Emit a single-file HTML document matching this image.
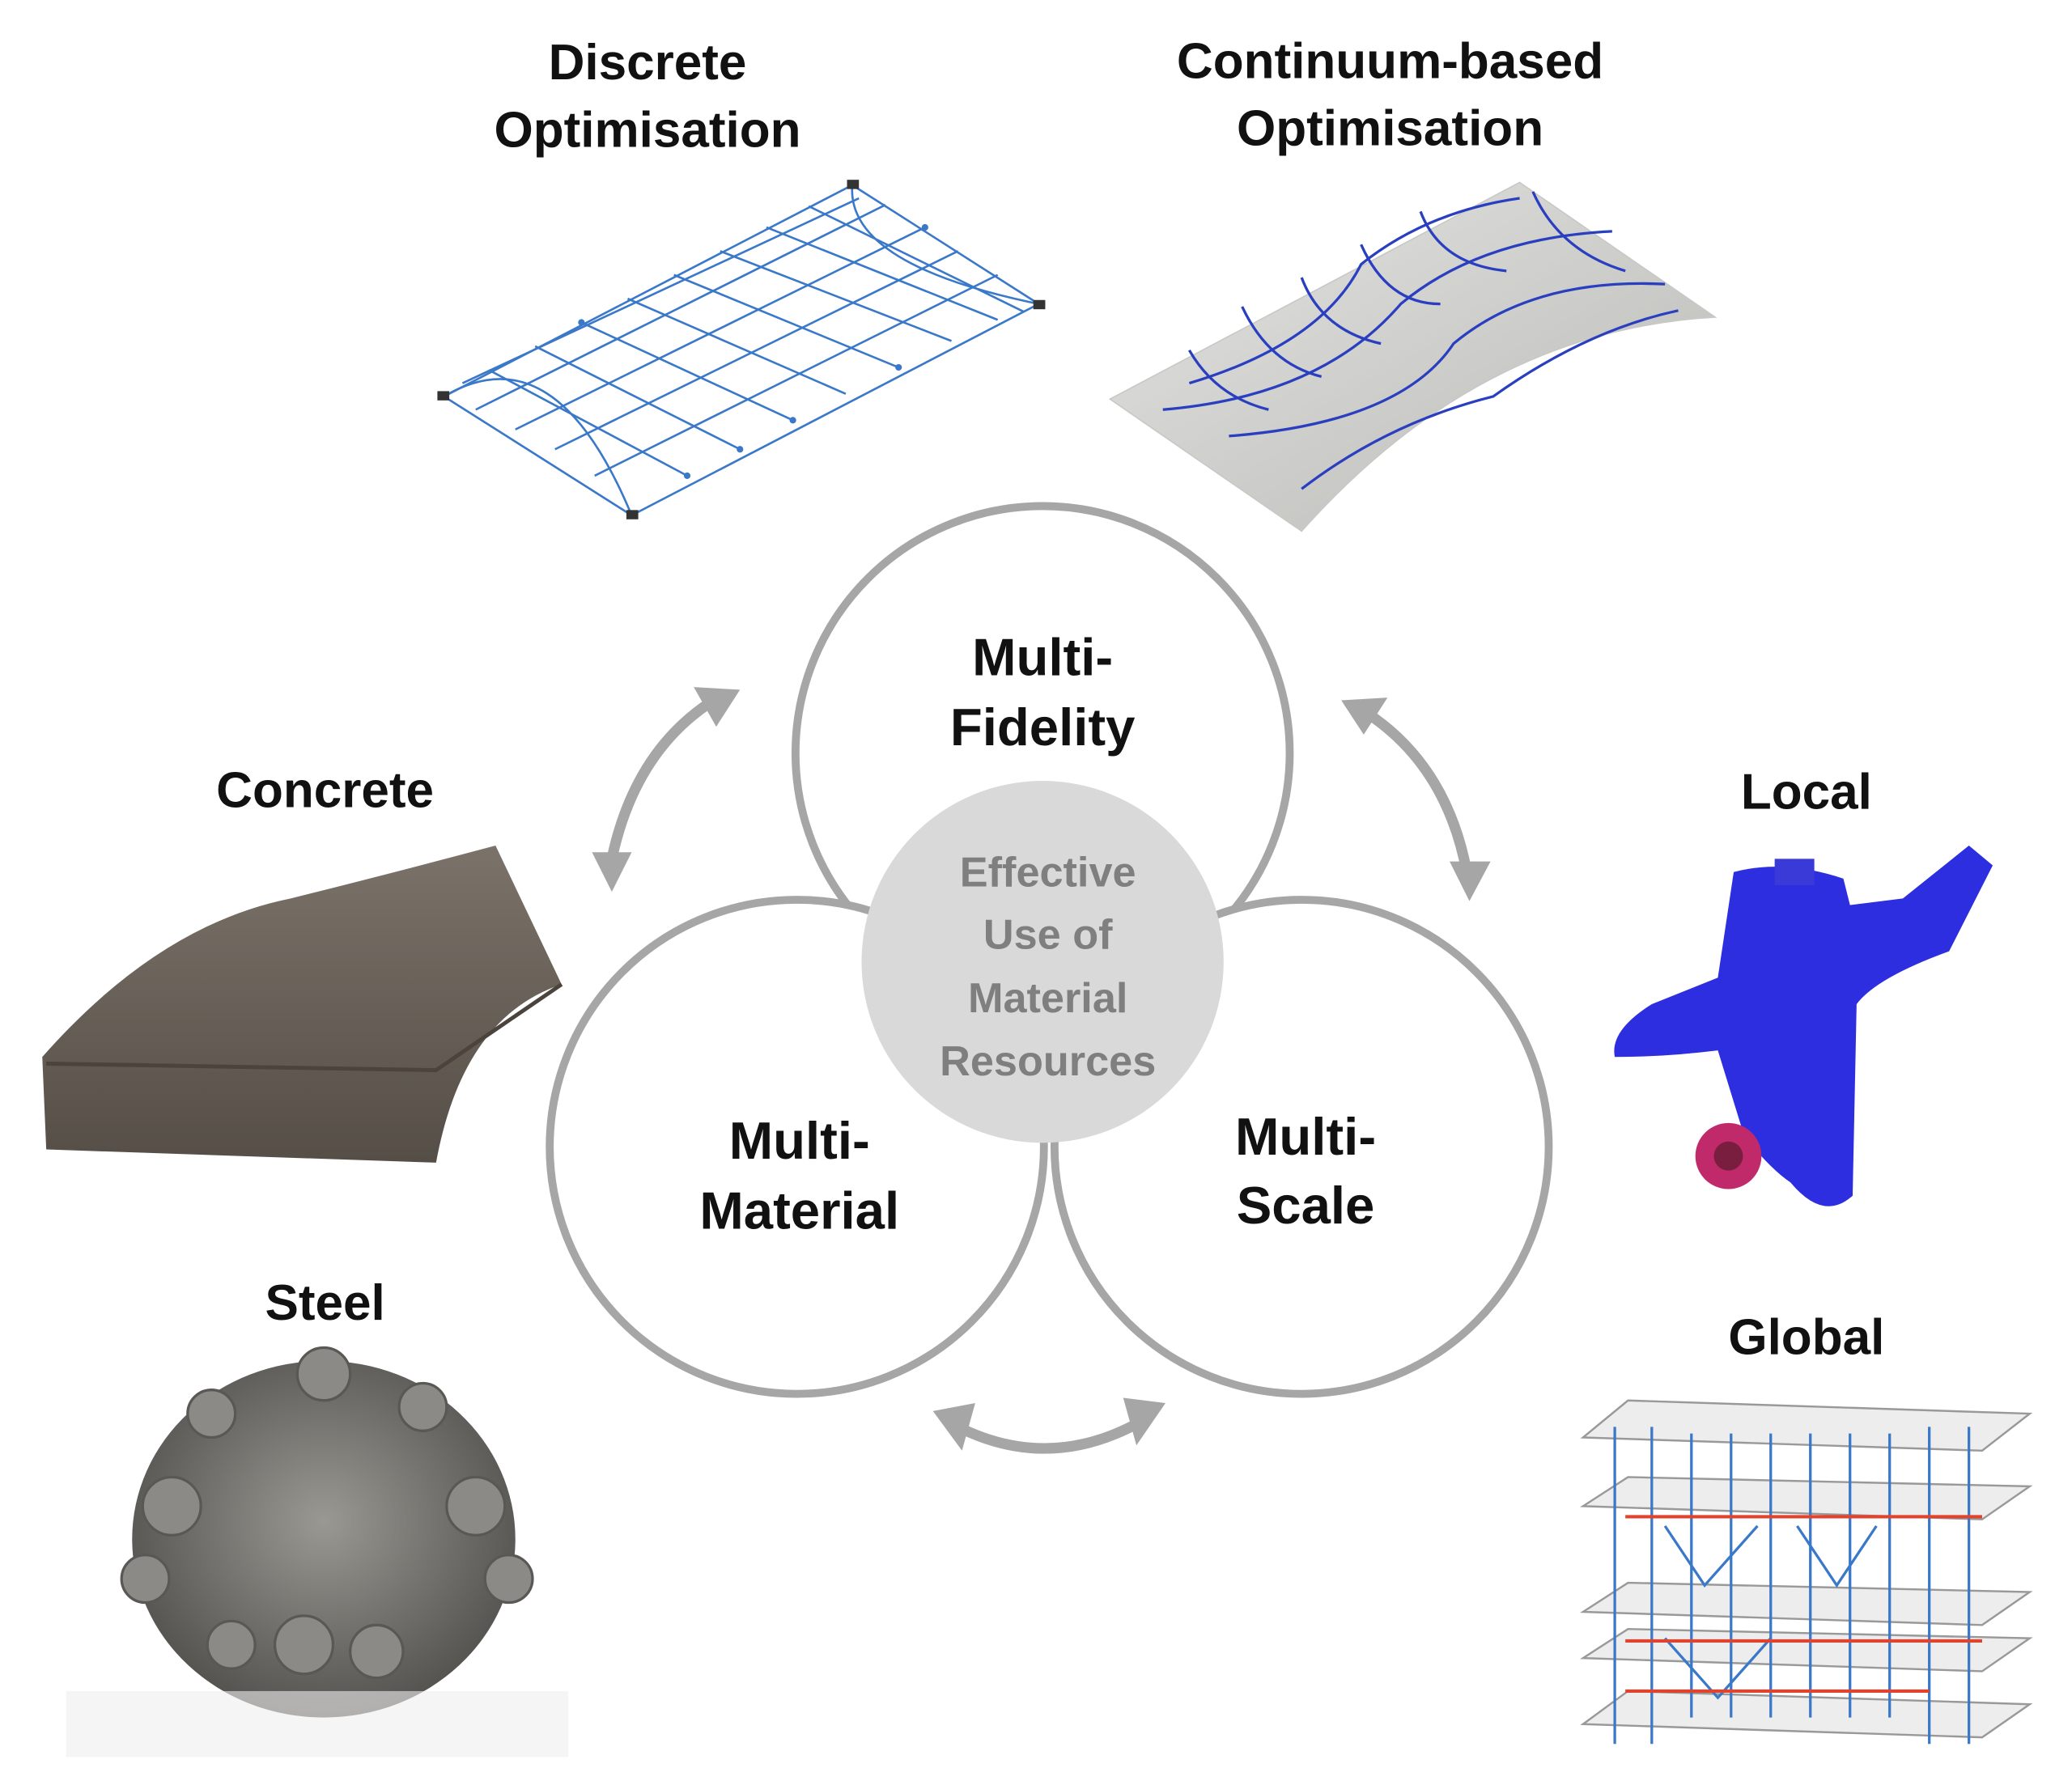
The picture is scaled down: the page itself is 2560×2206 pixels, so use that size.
<!DOCTYPE html>
<html><head><meta charset="utf-8"><style>html,body{margin:0;padding:0;background:#fff}svg{display:block}</style></head>
<body>
<svg width="2560" height="2206" viewBox="0 0 1568 1351" xmlns="http://www.w3.org/2000/svg" font-family="Liberation Sans, sans-serif" font-weight="bold">
<defs>
<linearGradient id="shell" x1="0" y1="0" x2="1" y2="1"><stop offset="0" stop-color="#e4e4e2"/><stop offset="1" stop-color="#b9b9b6"/></linearGradient>
<radialGradient id="steel" cx="0.5" cy="0.45" r="0.55"><stop offset="0" stop-color="#9a9893"/><stop offset="1" stop-color="#55534f"/></radialGradient>
<linearGradient id="conc" x1="0" y1="0" x2="0" y2="1"><stop offset="0" stop-color="#7b736a"/><stop offset="1" stop-color="#554e46"/></linearGradient>
</defs>

<g font-size="38" text-anchor="middle" fill="#111">
<text x="490" y="60">Discrete</text><text x="490" y="111">Optimisation</text>
<text x="1052" y="59">Continuum-based</text><text x="1052" y="110">Optimisation</text>
<text x="246" y="611">Concrete</text>
<text x="246" y="999">Steel</text>
<text x="1367" y="612">Local</text>
<text x="1367" y="1025">Global</text>
</g>

<g stroke="#3a78c9" stroke-width="1.6" fill="none">
<path d="M336 300 L645 140 L786 230 L478 390 Z"/>
<path d="M336 300 Q420 250 478 390 M645 140 Q640 200 786 230"/>
<path d="M370 280 L520 360 M405 262 L560 340 M440 244 L600 318 M475 226 L640 298 M510 208 L680 278 M545 190 L720 258 M580 172 L755 242 M612 156 L775 236"/>
<path d="M360 310 L670 155 M390 325 L700 172 M420 340 L725 190 M450 360 L755 208 M350 290 L650 150"/>
</g>
<g fill="#3a78c9"><circle cx="520" cy="360" r="2.5"/><circle cx="600" cy="318" r="2.5"/><circle cx="440" cy="244" r="2.5"/><circle cx="680" cy="278" r="2.5"/><circle cx="560" cy="340" r="2.5"/><circle cx="700" cy="172" r="2.5"/></g>
<g fill="#333"><rect x="331" y="296" width="9" height="7"/><rect x="641" y="136" width="9" height="7"/><rect x="782" y="227" width="9" height="7"/><rect x="474" y="386" width="9" height="7"/></g>

<path d="M840 302 L1150 138 L1298 240 Q1120 250 985 402 Z" fill="url(#shell)" stroke="#c8c8c6"/>
<g stroke="#2a3fc0" stroke-width="2" fill="none">
<path d="M900 265 Q920 300 960 310 M940 232 Q960 275 1000 285 M985 210 Q1000 250 1045 260 M1030 185 Q1050 230 1090 230 M1075 160 Q1090 200 1140 205 M1160 145 Q1180 190 1230 205"/>
<path d="M880 310 Q1000 300 1060 230 Q1120 180 1220 175 M930 330 Q1060 320 1100 260 Q1160 210 1260 215 M985 370 Q1050 320 1130 300 Q1200 250 1270 235 M900 290 Q1000 260 1030 200 Q1080 160 1150 150"/>
</g>

<path d="M32 800 Q120 700 220 680 Q300 660 375 640 L425 745 Q350 770 330 880 L35 870 Z" fill="url(#conc)"/>
<path d="M35 805 L330 810 L425 745" stroke="#4a443d" stroke-width="3" fill="none"/>

<ellipse cx="245" cy="1165" rx="145" ry="135" fill="url(#steel)"/>
<g fill="#8c8a86" stroke="#5a5854" stroke-width="2">
<circle cx="245" cy="1040" r="20"/><circle cx="130" cy="1140" r="22"/><circle cx="360" cy="1140" r="22"/><circle cx="110" cy="1195" r="18"/><circle cx="385" cy="1195" r="18"/><circle cx="230" cy="1245" r="22"/><circle cx="285" cy="1250" r="20"/><circle cx="160" cy="1070" r="18"/><circle cx="320" cy="1065" r="18"/><circle cx="175" cy="1245" r="18"/>
</g>
<rect x="50" y="1280" width="380" height="50" fill="#efefef" opacity="0.6"/>

<path d="M1312 660 Q1350 650 1395 665 L1400 685 L1440 680 L1490 640 L1508 655 L1475 720 Q1420 740 1405 760 L1402 905 Q1380 925 1355 895 Q1340 885 1320 860 L1300 795 Q1260 800 1222 800 Q1218 780 1250 760 L1300 740 Z" fill="#2c2ee0"/>
<rect x="1343" y="650" width="30" height="20" fill="#3a3ad8"/>
<circle cx="1308" cy="875" r="25" fill="#c02a6a"/><circle cx="1308" cy="875" r="11" fill="#7a1e40"/>

<g stroke="#999" stroke-width="1.5" fill="#e6e6e6" fill-opacity="0.7">
<path d="M1198 1088 L1232 1060 L1536 1070 L1500 1098 Z"/>
<path d="M1198 1140 L1232 1118 L1536 1125 L1500 1150 Z"/>
<path d="M1198 1220 L1232 1198 L1536 1205 L1500 1230 Z"/>
<path d="M1198 1255 L1232 1233 L1536 1240 L1500 1265 Z"/>
<path d="M1198 1305 L1232 1280 L1536 1290 L1500 1315 Z"/>
</g>
<g stroke="#3a78c9" stroke-width="2" fill="none">
<path d="M1222 1080 V1320 M1250 1080 V1320 M1280 1085 V1300 M1310 1085 V1300 M1340 1085 V1300 M1370 1085 V1300 M1400 1085 V1300 M1430 1085 V1300 M1460 1080 V1320 M1490 1080 V1320"/>
<path d="M1260 1155 L1290 1200 L1330 1155 M1360 1155 L1390 1200 L1420 1155 M1260 1240 L1300 1285 L1340 1240"/>
</g>
<g stroke="#e0442e" stroke-width="2.5"><path d="M1230 1148 L1500 1148 M1230 1242 L1500 1242 M1230 1280 L1460 1280"/></g>

<g stroke="#a6a6a6" stroke-width="8" fill="none" stroke-linecap="round">
<path d="M463 650 Q480 570 537 532"/>
<path d="M1035 540 Q1095 580 1110 660"/>
<path d="M725 1080 Q795 1115 865 1075"/>
</g>
<g fill="#a6a6a6">
<polygon points="448,645 478,645 463,675"/>
<polygon points="560,522 525,520 542,550"/>
<polygon points="1015,530 1050,528 1032,556"/>
<polygon points="1097,652 1128,652 1112,682"/>
<polygon points="706,1068 738,1062 728,1098"/>
<polygon points="882,1062 850,1058 860,1094"/>
</g>

<g stroke="#a6a6a6" stroke-width="6">
<circle cx="789" cy="570" r="187" fill="#fff"/>
<circle cx="603" cy="868" r="187" fill="#fff"/>
<circle cx="985" cy="868" r="187" fill="#fff"/>
</g>
<circle cx="789" cy="728" r="137" fill="#d9d9d9"/>

<g font-size="40" text-anchor="middle" fill="#111">
<text x="789" y="511">Multi-</text><text x="789" y="564">Fidelity</text>
<text x="605" y="877">Multi-</text><text x="605" y="930">Material</text>
<text x="988" y="874">Multi-</text><text x="988" y="926">Scale</text>
</g>
<g font-size="32" text-anchor="middle" fill="#7f7f7f">
<text x="793" y="671">Effective</text><text x="793" y="718">Use of</text><text x="793" y="766">Material</text><text x="793" y="814">Resources</text>
</g>
</svg>
</body></html>
